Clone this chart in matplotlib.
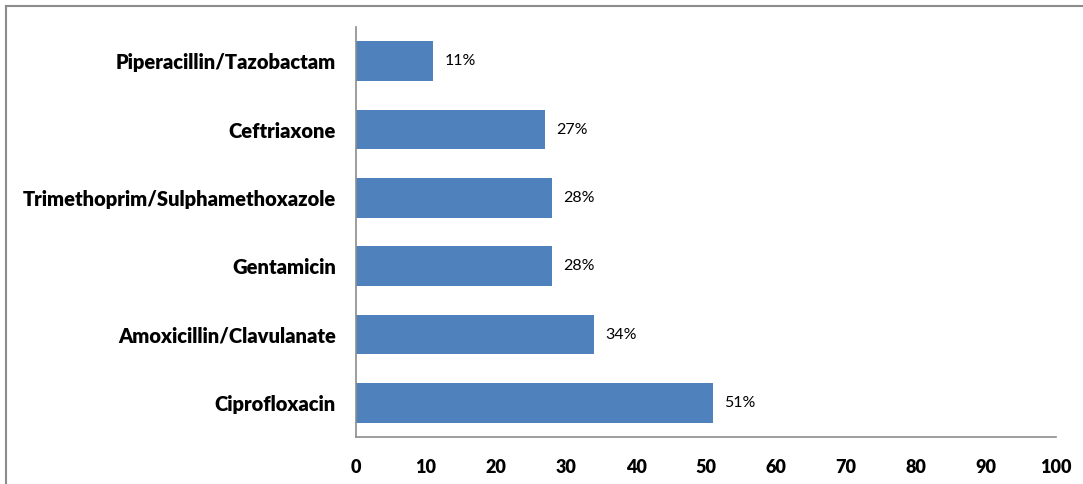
import matplotlib
matplotlib.use("Agg")
import matplotlib.pyplot as plt
from matplotlib.lines import Line2D

categories = ["Ciprofloxacin", "Amoxicillin/Clavulanate", "Gentamicin",
              "Trimethoprim/Sulphamethoxazole", "Ceftriaxone", "Piperacillin/Tazobactam"]
values = [51, 34, 28, 28, 27, 11]
xticks = [0, 10, 20, 30, 40, 50, 60, 70, 80, 90, 100]

fig = plt.figure(figsize=(10.83, 4.84), dpi=100)
ax = fig.add_axes([356/1083, 1-437/484, 700/1083, 410/484])

y = range(len(categories))
ax.barh(list(y), values, height=0.58, color="#4F81BD", zorder=2)
ax.set_ylim(-0.5, len(categories)-0.5)
ax.set_xlim(0, 100)
ax.set_xticks(xticks)
ax.set_xticklabels([str(t) for t in xticks], fontfamily="Lato", fontweight="heavy", fontsize=13)
ax.set_yticks(list(y))
ax.set_yticklabels(categories, fontfamily="Lato", fontweight="heavy", fontsize=14.5)
ax.tick_params(axis="both", length=0)
ax.tick_params(axis="x", pad=16)
ax.tick_params(axis="y", pad=14.5)
for s in ["top", "right"]:
    ax.spines[s].set_visible(False)
for s in ["left", "bottom"]:
    ax.spines[s].set_color("#8c8c8c")
    ax.spines[s].set_linewidth(1.2)

for i, v in enumerate(values):
    ax.text(v + 1.6, i, f"{v}%", va="center", ha="left", fontfamily="Lato", fontsize=11.5, color="#000000")

fig.add_artist(Line2D([6/1083, 6/1083], [0, 1-6/484], transform=fig.transFigure, color="#8c8c8c", lw=1.5))
fig.add_artist(Line2D([6/1083, 1082/1083], [1-6/484, 1-6/484], transform=fig.transFigure, color="#8c8c8c", lw=1.5))

fig.savefig("out.png", dpi=100)
